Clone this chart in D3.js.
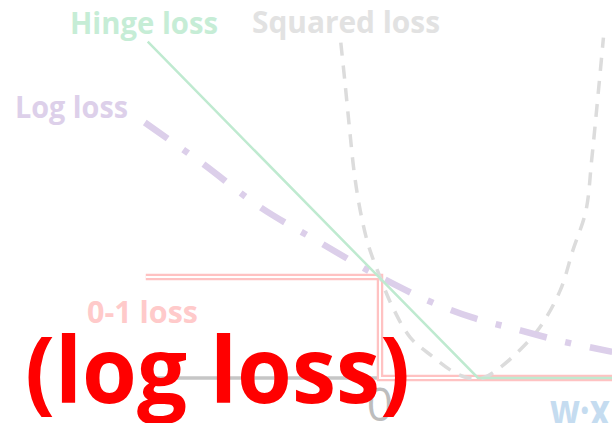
<!DOCTYPE html>
<html>
<head>
<meta charset="utf-8">
<script src="https://cdn.jsdelivr.net/npm/d3@7"></script>
<style>
    body { margin: 0; background: #fff; }
    svg { display: block; }
</style>
</head>
<body>
<svg id="viz" width="612" height="423"></svg>
<script>
// loss curves: [w·x, loss]
const hingePts = [[-2.37, 3.33], [1, 0], [2.4, 0]];
const zeroOnePts = [[-2.39, 1], [0, 1], [0, 0], [2.4, 0]];
const logPts = [[-2.40, 2.53], [-1.82, 2.13], [-1.22, 1.69], [-0.61, 1.34], [-0.17, 1.09],
    [0, 1], [0.48, 0.77], [0.94, 0.60], [1.40, 0.48], [1.87, 0.36], [2.37, 0.26]];
const squaredPts = [[-0.40, 3.32], [-0.36, 2.95], [-0.31, 2.46], [-0.26, 2.01], [-0.20, 1.65],
    [-0.12, 1.32], [0, 1], [0.13, 0.70], [0.31, 0.40], [0.54, 0.21], [0.75, 0.06], [0.90, 0.0],
    [1.05, 0.0], [1.22, 0.10], [1.43, 0.28], [1.63, 0.50], [1.84, 0.87], [1.97, 1.27],
    [2.10, 1.65], [2.16, 2.16], [2.21, 2.65], [2.28, 3.37]];
const axisExtent = [-2.31, 2.4];
const tickValues = [0];

// name, text, x, y, width, colour
const seriesLabels = [
    ["Hinge loss", 70, 34, 148, "#c6edd6"],
    ["Squared loss", 252, 33, 188, "#e2e2e2"],
    ["Log loss", 15, 118, 113, "#ddd0ea"],
    ["0-1 loss", 87, 323, 111, "#ffcaca"]
];

var svg = d3.select("#viz");
var width = +svg.attr("width");
var height = +svg.attr("height");

var x = d3.scaleLinear().domain([0, 1]).range([380, 478]);
var y = d3.scaleLinear().domain([0, 1]).range([378, 277]);

svg.append("rect").attr("width", width).attr("height", height).attr("fill", "#fff");

var line = d3.line().x(d => x(d[0])).y(d => y(d[1]));
var smooth = d3.line().x(d => x(d[0])).y(d => y(d[1])).curve(d3.curveCatmullRom);

// horizontal axis
svg.append("line")
    .attr("x1", x(axisExtent[0])).attr("x2", x(axisExtent[1]))
    .attr("y1", y(0)).attr("y2", y(0))
    .attr("stroke", "#c6c6c6")
    .attr("stroke-width", 3.5);

// 0-1 loss, double line
svg.append("path").datum(zeroOnePts)
    .attr("d", line).attr("fill", "none")
    .attr("stroke", "#ffc2c2").attr("stroke-width", 6.5);
svg.append("path").datum(zeroOnePts)
    .attr("d", line).attr("fill", "none")
    .attr("stroke", "#fff").attr("stroke-width", 2);

// squared loss
svg.append("path").datum(squaredPts)
    .attr("d", smooth).attr("fill", "none")
    .attr("stroke", "#dcdcdc").attr("stroke-width", 3.5)
    .attr("stroke-dasharray", "13,10");

// log loss
svg.append("path").datum(logPts)
    .attr("d", smooth).attr("fill", "none")
    .attr("stroke", "#dccfea").attr("stroke-width", 6.5)
    .attr("stroke-dasharray", "28,19,6,19");

// hinge loss
svg.append("path").datum(hingePts)
    .attr("d", line).attr("fill", "none")
    .attr("stroke", "#bfead0").attr("stroke-width", 2.5);

// labels
svg.selectAll("text.series")
    .data(seriesLabels)
    .enter().append("text")
    .attr("class", "series")
    .attr("x", d => d[1]).attr("y", d => d[2])
    .attr("textLength", d => d[3])
    .attr("lengthAdjust", "spacingAndGlyphs")
    .attr("font-family", "'Open Sans', sans-serif")
    .attr("font-weight", 700)
    .attr("font-size", 31)
    .attr("fill", d => d[4])
    .text(d => d[0]);

svg.selectAll("text.tick")
    .data(tickValues)
    .enter().append("text")
    .attr("class", "tick")
    .attr("x", d => x(d)).attr("y", 421)
    .attr("text-anchor", "middle")
    .attr("font-family", "'Open Sans', sans-serif")
    .attr("font-size", 46)
    .attr("fill", "#bdbdbd")
    .text(d => d);

svg.append("text")
    .attr("x", 550).attr("y", 426)
    .attr("textLength", 60)
    .attr("lengthAdjust", "spacingAndGlyphs")
    .attr("font-family", "'Open Sans', sans-serif")
    .attr("font-weight", 700)
    .attr("font-size", 44)
    .attr("fill", "#c5dcf0")
    .text("w·x");

svg.append("text")
    .attr("x", 25).attr("y", 403)
    .attr("textLength", 385)
    .attr("lengthAdjust", "spacingAndGlyphs")
    .attr("font-family", "'Open Sans', sans-serif")
    .attr("font-weight", 700)
    .attr("font-size", 92)
    .attr("fill", "#ff0000")
    .text("(log loss)");
</script>
</body>
</html>
